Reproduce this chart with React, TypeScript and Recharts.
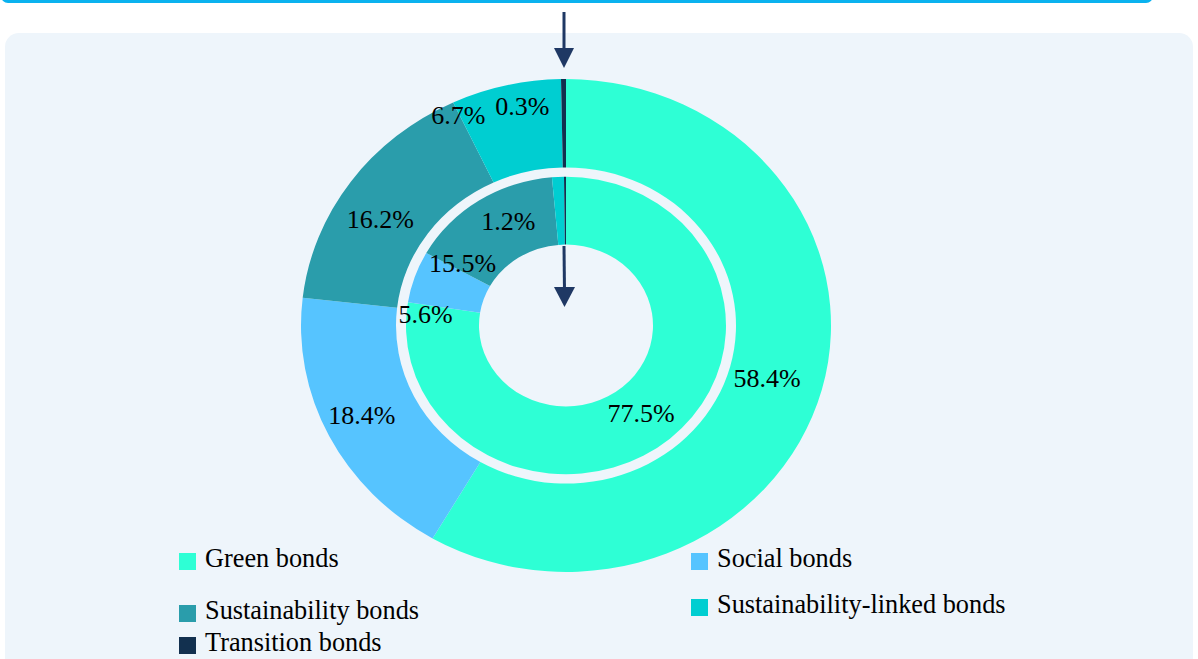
import React from 'react';
import { PieChart, Pie, Cell, Legend } from 'recharts';

const categories = [
  'Green bonds',
  'Social bonds',
  'Sustainability bonds',
  'Sustainability-linked bonds',
  'Transition bonds',
];
const outerValues = [58.4, 18.4, 16.2, 6.7, 0.3];
const innerValues = [77.5, 5.6, 15.5, 1.2, 0.2];

const colors = ['#2EFFD5', '#56C4FF', '#2A9DAB', '#00CED1', '#12304F'];

const outerData = categories.map((name, i) => ({ name, value: outerValues[i] }));
const innerData = categories.map((name, i) => ({ name, value: innerValues[i] }));

// layout / style constants
const W = 1198;
const H = 659;
const CX = 566;
const CY = 325.5;
const SY = 0.93; // vertical squash of the donut (the reference is elliptical)
const FONT = '"Liberation Serif", "Times New Roman", serif';

// label nudges (angle shift in degrees clockwise, radial distance)
const outerLabelNudge = [
  { turn: 0.7, r: 209 },
  { turn: 1.2, r: 226 },
  { turn: -4, r: 218 },
  { turn: -12.4, r: 250 },
  { turn: -10, r: 239 },
];
const innerLabelNudge: ({ turn: number; r: number } | null)[] = [
  { turn: 2.1, r: 121 },
  { turn: -14.1, r: 141 },
  { turn: -24.2, r: 123 },
  { turn: -24.4, r: 126 },
  null,
];

const legendSpots = [
  { left: 179, top: 544 },
  { left: 691, top: 544 },
  { left: 179, top: 596 },
  { left: 691, top: 590 },
  { left: 179, top: 628 },
];

const makeLabel = (nudges: ({ turn: number; r: number } | null)[]) => (props: any) => {
  const { midAngle, index, value } = props;
  const nudge = nudges[index];
  if (!nudge) return null;
  const cx = typeof props.cx === 'number' ? props.cx : CX;
  const cy = typeof props.cy === 'number' ? props.cy : CY;
  const clock = ((90 - midAngle + nudge.turn) * Math.PI) / 180;
  const x = cx + nudge.r * Math.sin(clock);
  const y = cy - nudge.r * Math.cos(clock) * SY;
  return (
    <text
      x={x}
      y={y}
      fill="#000"
      textAnchor="middle"
      dominantBaseline="central"
      style={{ fontFamily: FONT, fontSize: 26 }}
    >
      {`${Number(value).toFixed(1)}%`}
    </text>
  );
};

const renderLegend = () => (
  <div style={{ position: 'relative', width: W, height: 1 }}>
    {categories.map((name, i) => (
      <div
        key={name}
        style={{
          position: 'absolute',
          left: legendSpots[i].left,
          top: legendSpots[i].top,
          display: 'flex',
          alignItems: 'flex-start',
          whiteSpace: 'nowrap',
        }}
      >
        <span
          style={{
            display: 'inline-block',
            width: 17,
            height: 17,
            marginTop: 9,
            marginRight: 9,
            background: colors[i],
          }}
        />
        <span style={{ fontFamily: FONT, fontSize: 26.3, lineHeight: '30px', color: '#000' }}>{name}</span>
      </div>
    ))}
  </div>
);

export default function App() {
  return (
    <div
      style={{
        position: 'absolute',
        left: 0,
        top: 0,
        width: W,
        height: H,
        overflow: 'hidden',
        background: '#ffffff',
      }}
    >
      <style>{`
        .donut .recharts-sector {
          transform-box: view-box;
          transform-origin: ${CX}px ${CY}px;
          transform: scaleY(${SY});
        }
      `}</style>
      {/* top framed box edge */}
      <div
        style={{
          position: 'absolute',
          left: 1,
          top: -30,
          width: 1152,
          height: 33,
          boxSizing: 'border-box',
          border: '3px solid #0AB2EF',
          borderRadius: 7,
        }}
      />
      {/* light panel */}
      <div
        style={{
          position: 'absolute',
          left: 5,
          top: 33,
          width: 1188,
          height: 660,
          background: '#EEF5FB',
          borderRadius: 14,
        }}
      />
      <div className="donut" style={{ position: 'absolute', left: 0, top: 0 }}>
        <PieChart width={W} height={H} margin={{ top: 0, right: 0, bottom: 0, left: 0 }}>
          <Pie
            data={outerData}
            dataKey="value"
            nameKey="name"
            cx={CX}
            cy={CY}
            innerRadius={170}
            outerRadius={265}
            startAngle={90}
            endAngle={-270}
            stroke="none"
            labelLine={false}
            label={makeLabel(outerLabelNudge)}
            isAnimationActive={false}
          >
            {outerData.map((d, i) => (
              <Cell key={d.name} fill={colors[i]} />
            ))}
          </Pie>
          <Pie
            data={innerData}
            dataKey="value"
            nameKey="name"
            cx={CX}
            cy={CY}
            innerRadius={87}
            outerRadius={160}
            startAngle={90}
            endAngle={-270}
            stroke="none"
            labelLine={false}
            label={makeLabel(innerLabelNudge)}
            isAnimationActive={false}
          >
            {innerData.map((d, i) => (
              <Cell key={d.name} fill={colors[i]} />
            ))}
          </Pie>
          <Legend
            verticalAlign="bottom"
            content={renderLegend}
            wrapperStyle={{ position: 'absolute', left: 0, top: 0, bottom: 'auto', width: W, height: 1 }}
          />
        </PieChart>
      </div>
      {/* arrows */}
      <svg
        width={W}
        height={H}
        style={{ position: 'absolute', left: 0, top: 0, pointerEvents: 'none' }}
      >
        <line x1={564} y1={12} x2={564} y2={52} stroke="#1F3864" strokeWidth={3} />
        <polygon points="554,48 574,48 564,68" fill="#1F3864" />
        <line x1={564} y1={246} x2={564.5} y2={291} stroke="#1F3864" strokeWidth={3} />
        <polygon points="554,287 575,287 564.5,307" fill="#1F3864" />
      </svg>
    </div>
  );
}
